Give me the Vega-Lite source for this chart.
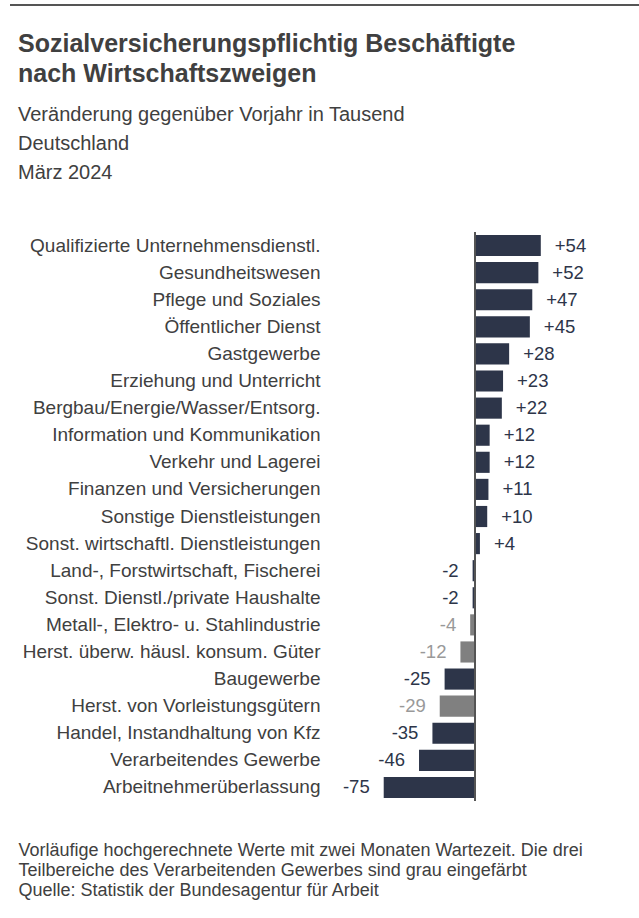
{
  "$schema": "https://vega.github.io/schema/vega-lite/v6.json",
  "width": 274,
  "height": 569,
  "autosize": {"type": "none"},
  "padding": {"left": 335, "top": 232, "right": 30, "bottom": 117},
  "background": "white",
  "config": {
    "view": {"stroke": null},
    "font": "Liberation Sans",
    "locale": {"number": {"decimal": ",", "thousands": ".", "grouping": [3], "currency": ["", " €"], "minus": "-"}}
  },
  "title": {
    "text": ["Sozialversicherungspflichtig Beschäftigte", "nach Wirtschaftszweigen"],
    "subtitle": ["Veränderung gegenüber Vorjahr in Tausend", "Deutschland", "März 2024"],
    "anchor": "start",
    "frame": "group",
    "dx": -317,
    "dy": 179,
    "offset": 0,
    "fontSize": 25,
    "fontWeight": "bold",
    "color": "#404040",
    "lineHeight": 30,
    "subtitleFontSize": 20,
    "subtitleColor": "#404040",
    "subtitleLineHeight": 29,
    "subtitlePadding": 18
  },
  "data": {
    "values": [
      {"name": "Qualifizierte Unternehmensdienstl.", "value": 54, "group": "Wirtschaftszweig"},
      {"name": "Gesundheitswesen", "value": 52, "group": "Wirtschaftszweig"},
      {"name": "Pflege und Soziales", "value": 47, "group": "Wirtschaftszweig"},
      {"name": "Öffentlicher Dienst", "value": 45, "group": "Wirtschaftszweig"},
      {"name": "Gastgewerbe", "value": 28, "group": "Wirtschaftszweig"},
      {"name": "Erziehung und Unterricht", "value": 23, "group": "Wirtschaftszweig"},
      {"name": "Bergbau/Energie/Wasser/Entsorg.", "value": 22, "group": "Wirtschaftszweig"},
      {"name": "Information und Kommunikation", "value": 12, "group": "Wirtschaftszweig"},
      {"name": "Verkehr und Lagerei", "value": 12, "group": "Wirtschaftszweig"},
      {"name": "Finanzen und Versicherungen", "value": 11, "group": "Wirtschaftszweig"},
      {"name": "Sonstige Dienstleistungen", "value": 10, "group": "Wirtschaftszweig"},
      {"name": "Sonst. wirtschaftl. Dienstleistungen", "value": 4, "group": "Wirtschaftszweig"},
      {"name": "Land-, Forstwirtschaft, Fischerei", "value": -2, "group": "Wirtschaftszweig"},
      {"name": "Sonst. Dienstl./private Haushalte", "value": -2, "group": "Wirtschaftszweig"},
      {"name": "Metall-, Elektro- u. Stahlindustrie", "value": -4, "group": "Teilbereich"},
      {"name": "Herst. überw. häusl. konsum. Güter", "value": -12, "group": "Teilbereich"},
      {"name": "Baugewerbe", "value": -25, "group": "Wirtschaftszweig"},
      {"name": "Herst. von Vorleistungsgütern", "value": -29, "group": "Teilbereich"},
      {"name": "Handel, Instandhaltung von Kfz", "value": -35, "group": "Wirtschaftszweig"},
      {"name": "Verarbeitendes Gewerbe", "value": -46, "group": "Wirtschaftszweig"},
      {"name": "Arbeitnehmerüberlassung", "value": -75, "group": "Wirtschaftszweig"}
    ]
  },
  "resolve": {"scale": {"color": "independent"}},
  "layer": [
    {
      "mark": {"type": "bar"},
      "encoding": {
        "y": {
          "field": "name", "type": "nominal", "sort": null,
          "scale": {"paddingInner": 0.22, "paddingOuter": 0.11},
          "axis": {"title": null, "ticks": false, "domain": false, "labelFontSize": 19, "labelColor": "#404040", "labelPadding": 15, "labelLimit": 400}
        },
        "x": {
          "field": "value", "type": "quantitative",
          "scale": {"domain": [-115, 110], "nice": false, "zero": true},
          "axis": {
            "orient": "bottom", "labels": false, "ticks": false, "domain": false, "grid": false,
            "title": ["Vorläufige hochgerechnete Werte mit zwei Monaten Wartezeit. Die drei", "Teilbereiche des Verarbeitenden Gewerbes sind grau eingefärbt", "Quelle: Statistik der Bundesagentur für Arbeit"],
            "titleX": -317, "titleY": 40, "titleAlign": "left", "titleAnchor": "start", "titleBaseline": "top",
            "titleFontSize": 18, "titleFontWeight": "normal", "titleColor": "#404040", "titleLineHeight": 20
          }
        },
        "color": {
          "field": "group", "type": "nominal",
          "scale": {"domain": ["Wirtschaftszweig", "Teilbereich"], "range": ["#2d3549", "#808080"]},
          "legend": null
        }
      }
    },
    {
      "mark": {"type": "rule", "color": "#555555", "strokeWidth": 1.5},
      "encoding": {"x": {"datum": 0}}
    },
    {
      "mark": {"type": "rule", "color": "#555555", "strokeWidth": 2},
      "encoding": {"x": {"value": -325}, "x2": {"value": 304}, "y": {"value": -227}}
    },
    {
      "transform": [{"filter": "datum.value > 0"}],
      "mark": {"type": "text", "align": "left", "dx": 14, "fontSize": 18.5, "baseline": "middle"},
      "encoding": {
        "y": {"field": "name", "type": "nominal", "sort": null},
        "x": {"field": "value", "type": "quantitative"},
        "text": {"field": "value", "type": "quantitative", "format": "+d"},
        "color": {
          "field": "group", "type": "nominal",
          "scale": {"domain": ["Wirtschaftszweig", "Teilbereich"], "range": ["#2d3549", "#999999"]},
          "legend": null
        }
      }
    },
    {
      "transform": [{"filter": "datum.value < 0"}],
      "mark": {"type": "text", "align": "right", "dx": -14, "fontSize": 18.5, "baseline": "middle"},
      "encoding": {
        "y": {"field": "name", "type": "nominal", "sort": null},
        "x": {"field": "value", "type": "quantitative"},
        "text": {"field": "value", "type": "quantitative", "format": "d"},
        "color": {
          "field": "group", "type": "nominal",
          "scale": {"domain": ["Wirtschaftszweig", "Teilbereich"], "range": ["#2d3549", "#999999"]},
          "legend": null
        }
      }
    }
  ]
}
